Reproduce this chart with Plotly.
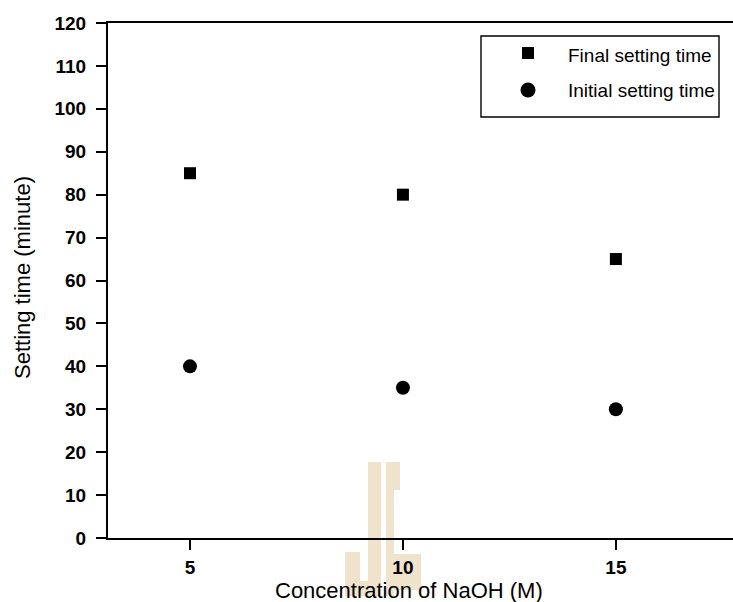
import plotly.graph_objects as go

# Setting time of the binder versus NaOH concentration
naoh_molarity = [5, 10, 15]
final_setting = [85, 80, 65]
initial_setting = [40, 35, 30]
y_ticks = list(range(0, 121, 10))
x_ticks = [5, 10, 15]

W, H = 733, 602
L, R, T, B = 108, 733, 23, 538  # plot area in pixels

FONT = "Liberation Sans, Arial, sans-serif"
TICK_FONT = dict(family=FONT, size=19, color="black", weight="bold")


def px(x):
    return (x - L) / (R - L)


def py(y):
    return (B - y) / (B - T)


fig = go.Figure()

fig.add_trace(go.Scatter(
    x=naoh_molarity, y=final_setting, mode="markers",
    name="Final setting time",
    marker=dict(symbol="square", size=12, color="black"),
    showlegend=False,
))
fig.add_trace(go.Scatter(
    x=naoh_molarity, y=initial_setting, mode="markers",
    name="Initial setting time",
    marker=dict(symbol="circle", size=14, color="black"),
    showlegend=False,
))

shapes = []

# faint beige logo mark near the bottom centre
beige = "rgba(239,227,203,1)"
for x0, y0, x1, y1 in [
    (368, 462, 381, 596),
    (345, 552, 360, 596),
    (345, 581, 381, 596),
    (386, 462, 400, 490),
    (386, 490, 394, 596),
    (386, 554, 421, 590),
]:
    shapes.append(dict(type="rect", xref="paper", yref="paper",
                       x0=px(x0), x1=px(x1), y0=py(y1), y1=py(y0),
                       line=dict(width=0), fillcolor=beige, layer="below"))

# legend box and keys
shapes.append(dict(type="rect", xref="paper", yref="paper",
                   x0=px(481), x1=px(719), y0=py(117), y1=py(36),
                   line=dict(color="black", width=1.4), fillcolor="rgba(0,0,0,0)"))
shapes.append(dict(type="rect", xref="paper", yref="paper",
                   x0=px(522), x1=px(534), y0=py(59), y1=py(47),
                   line=dict(width=0), fillcolor="black"))
shapes.append(dict(type="circle", xref="paper", yref="paper",
                   x0=px(520.5), x1=px(535.5), y0=py(97.5), y1=py(82.5),
                   line=dict(width=0), fillcolor="black"))

annotations = [
    dict(text="Final setting time", xref="paper", yref="paper",
         x=px(566), y=py(55), xanchor="left", yanchor="middle",
         showarrow=False, font=dict(family=FONT, size=19, color="black")),
    dict(text="Initial setting time", xref="paper", yref="paper",
         x=px(566), y=py(91), xanchor="left", yanchor="middle",
         showarrow=False, font=dict(family=FONT, size=19, color="black")),
    dict(text="Concentration of NaOH (M)", xref="paper", yref="paper",
         x=px(409), y=py(590), xanchor="center", yanchor="middle",
         showarrow=False, font=dict(family=FONT, size=22, color="black")),
    dict(text="Setting time (minute)", xref="paper", yref="paper",
         x=px(22), y=py(278), xanchor="center", yanchor="middle", textangle=-90,
         showarrow=False, font=dict(family=FONT, size=22, color="black")),
]

fig.update_layout(
    width=W, height=H,
    margin=dict(l=L, r=W - R, t=T, b=H - B, pad=0),
    paper_bgcolor="white", plot_bgcolor="white",
    font=dict(family=FONT, size=18, color="black"),
    shapes=shapes, annotations=annotations,
    showlegend=False,
)

fig.update_xaxes(
    range=[3.075, 17.75], tickvals=x_ticks, ticktext=[str(v) for v in x_ticks],
    showgrid=False, zeroline=False,
    showline=True, linecolor="black", linewidth=2, mirror=True,
    ticks="outside", ticklen=10, tickwidth=2, tickcolor="black",
    tickfont=TICK_FONT, ticklabelstandoff=1,
)
fig.update_yaxes(
    range=[0, 120], tickvals=y_ticks, ticktext=[str(v) for v in y_ticks],
    showgrid=False, zeroline=False,
    showline=True, linecolor="black", linewidth=2,
    ticks="outside", ticklen=10, tickwidth=2, tickcolor="black",
    tickfont=TICK_FONT, ticklabelstandoff=6,
)

fig.write_html("out.html")
